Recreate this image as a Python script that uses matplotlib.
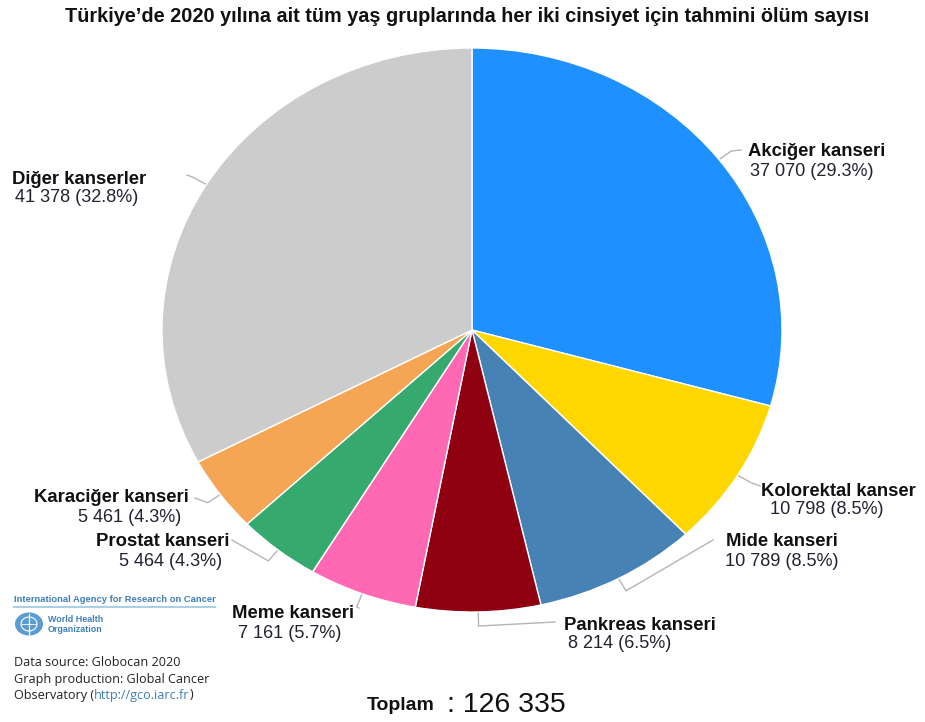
import matplotlib
matplotlib.use("Agg")
import matplotlib.pyplot as plt
import numpy as np
from matplotlib.patches import Ellipse

# Estimated cancer deaths, Türkiye 2020, both sexes, all ages
categories = ["Akciğer kanseri", "Kolorektal kanser", "Mide kanseri", "Pankreas kanseri",
              "Meme kanseri", "Prostat kanseri", "Karaciğer kanseri", "Diğer kanserler"]
deaths = [37070, 10798, 10789, 8214, 7161, 5464, 5461, 41378]
shares = [29.3, 8.5, 8.5, 6.5, 5.7, 4.3, 4.3, 32.8]
total = 126335
colors = ["#1e90ff", "#ffd700", "#4682b4", "#8f0010", "#ff69b4", "#36a96e", "#f4a655", "#cccccc"]

W, H = 925, 722
CX, CY, RX, RY = 472, 330, 310, 282

fig = plt.figure(figsize=(W / 100, H / 100), dpi=100)
ax = fig.add_axes([0, 0, 1, 1])

wedges, _ = ax.pie(deaths, colors=colors, startangle=90, counterclock=False,
                   wedgeprops=dict(edgecolor="white", linewidth=1.0))
ax.set_aspect("auto")
ax.set_xlim((0 - CX) / RX, (W - CX) / RX)
ax.set_ylim((CY - H) / RY, (CY - 0) / RY)
ax.axis("off")


def px(x, y):
    """Pixel position -> data coordinates of the pie axes."""
    return (x - CX) / RX, (CY - y) / RY


def fmt(n):
    return f"{n:,}".replace(",", " ")


# label layout: (name pos, name align, value pos, value align, leader end)
layout = [
    ((748, 152), "left", (750, 171), "left", (741, 150)),
    ((761, 492), "left", (770, 509), "left", (760, 486)),
    ((726, 541), "left", (725, 561), "left", (713, 540)),
    ((564, 625), "left", (568, 643), "left", (555, 622)),
    ((232, 614), "left", (238, 633), "left", (359, 608)),
    ((229, 542), "right", (222, 562), "right", (232, 540)),
    ((189, 497), "right", (181, 517), "right", (195, 498)),
    ((12, 179), "left", (15, 198), "left", (187, 175)),
]

lab_font = "Liberation Sans"
for w, name, n, pct, (npos, nal, vpos, val, end) in zip(wedges, categories, deaths, shares, layout):
    mid = np.deg2rad((w.theta1 + w.theta2) / 2)
    a = (np.cos(mid), np.sin(mid))
    e = (1.05 * np.cos(mid), 1.05 * np.sin(mid))
    ex, ey = px(*end)
    ax.plot([a[0], e[0], ex], [a[1], e[1], ey], color="#b5b5b5", lw=1.0,
            solid_joinstyle="round", zorder=0)
    ax.text(*px(*npos), name, ha=nal, va="center", fontsize=13.3,
            fontweight="bold", family=lab_font, color="#111111")
    ax.text(*px(*vpos), f"{fmt(n)} ({pct}%)", ha=val, va="center", fontsize=13.1,
            family=lab_font, color="#222233")

# title
fig.text(467 / W, 1 - 17 / H,
         "Türkiye’de 2020 yılına ait tüm yaş gruplarında her iki cinsiyet için tahmini ölüm sayısı",
         ha="center", va="center", fontsize=14.3, fontweight="bold",
         family=lab_font, color="#111111")

# total
fig.text(435 / W, 1 - 705 / H, "Toplam", ha="right", va="center", fontsize=14,
         fontweight="bold", family=lab_font, color="#111111")
fig.text(447 / W, 1 - 705 / H, ": " + fmt(total), ha="left", va="center", fontsize=20.5,
         family=lab_font, color="#111111")

# agency block
blue = "#3f7fb5"
fig.text(14 / W, 1 - 599 / H, "International Agency for Research on Cancer", ha="left",
         va="center", fontsize=6.75, fontweight="bold", family=lab_font, color=blue)
fig.add_artist(plt.Line2D([14 / W, 215 / W], [1 - 607 / H, 1 - 607 / H],
                          color="#a9d0e3", lw=1.5))
fig.add_artist(Ellipse((29 / W, 1 - 624 / H), 28 / W, 23 / H, facecolor="#5b9bd0",
                       edgecolor="none", transform=fig.transFigure))
fig.add_artist(Ellipse((29 / W, 1 - 624 / H), 16 / W, 14 / H, facecolor="none",
                       edgecolor="white", lw=0.8, transform=fig.transFigure))
fig.add_artist(plt.Line2D([29 / W, 29 / W], [1 - 614 / H, 1 - 634 / H], color="white", lw=0.9))
fig.add_artist(plt.Line2D([22 / W, 36 / W], [1 - 624 / H, 1 - 624 / H], color="white", lw=0.6))
fig.text(48 / W, 1 - 619.5 / H, "World Health", ha="left", va="center", fontsize=6.4,
         fontweight="bold", family=lab_font, color=blue)
fig.text(48 / W, 1 - 629 / H, "Organization", ha="left", va="center", fontsize=6.4,
         fontweight="bold", family=lab_font, color=blue)

src_font = "Open Sans"
src_size = 9.1
fig.text(14 / W, 1 - 663 / H, "Data source: Globocan 2020", ha="left", va="center",
         fontsize=src_size, family=src_font, color="#222222")
fig.text(14 / W, 1 - 679 / H, "Graph production: Global Cancer", ha="left", va="center",
         fontsize=src_size, family=src_font, color="#222222")
t = fig.text(14 / W, 1 - 695 / H, "Observatory (", ha="left", va="center",
             fontsize=src_size, family=src_font, color="#222222")
fig.canvas.draw()
bb = t.get_window_extent()
t2 = fig.text(bb.x1 / W, 1 - 695 / H, "http://gco.iarc.fr", ha="left", va="center",
              fontsize=src_size, family=src_font, color="#3f7fb5")
bb2 = t2.get_window_extent()
fig.text(bb2.x1 / W, 1 - 695 / H, ")", ha="left", va="center",
         fontsize=src_size, family=src_font, color="#222222")

fig.savefig("out.png", dpi=100, facecolor="white")
